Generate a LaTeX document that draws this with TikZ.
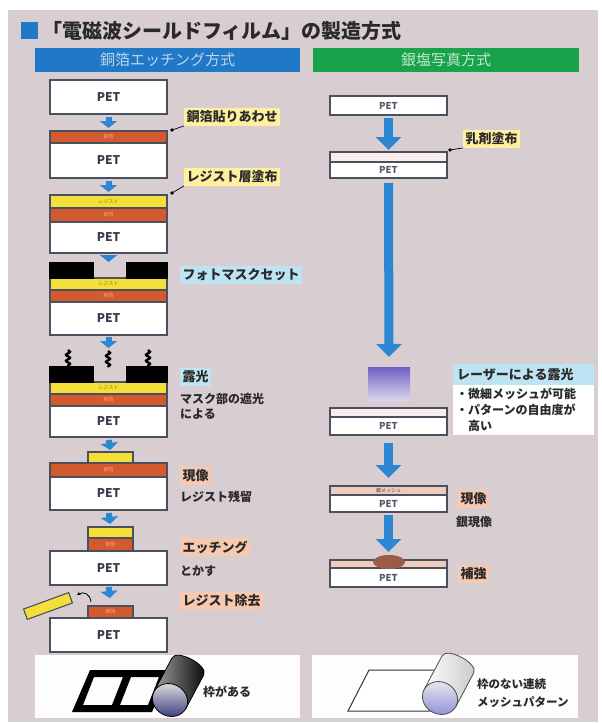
\documentclass[tikz,border=0pt]{standalone}
\usepackage{fontspec}
\setmainfont{Noto Sans CJK JP}
\usetikzlibrary{arrows.meta,decorations.pathmorphing}

\definecolor{panelc}{HTML}{D8CED1}
\definecolor{framec}{HTML}{4B4F5E}
\definecolor{petc}{HTML}{3A3A48}
\definecolor{cuc}{HTML}{D35A2E}
\definecolor{cuhi}{HTML}{F2A488}
\definecolor{resc}{HTML}{F2DF3A}
\definecolor{resdk}{HTML}{8A7A10}
\definecolor{arrowc}{HTML}{2C86D2}
\definecolor{labY}{HTML}{FFF0A0}
\definecolor{labB}{HTML}{BEE3F2}
\definecolor{labP}{HTML}{F6C9B0}
\definecolor{emulc}{HTML}{F7EDEF}
\definecolor{emulb}{HTML}{EFCBBB}
\definecolor{bumpc}{HTML}{9C5A48}
\definecolor{txtc}{HTML}{2A2A2A}
\definecolor{bluebar}{HTML}{2079C6}
\definecolor{greenbar}{HTML}{18A24A}
\definecolor{purtop}{HTML}{6D5EC2}
\definecolor{purbot}{HTML}{DCD4EE}

% one layer of a film stack, given by its corners
\newcommand\lay[7]{\node[#2,anchor=north west,minimum width={#5-#3},minimum height={#6-#4}] (#1) at (#3,#4) {#7};}

\begin{document}
\begin{tikzpicture}[x=1pt,y=-1pt,
  lyr/.style={draw=framec,line width=1.1pt,inner sep=0pt,outer sep=0pt},
  petl/.style={lyr,fill=white,text=petc,font=\bfseries\fontsize{12}{12}\selectfont},
  cul/.style={lyr,fill=cuc,text=cuhi,font=\fontsize{5}{5}\selectfont},
  resl/.style={lyr,fill=resc,text=resdk,font=\fontsize{5}{5}\selectfont},
  maskl/.style={lyr,draw=black,fill=black},
  rpet/.style={lyr,line width=1.4pt,fill=white,text=petc!85,font=\bfseries\fontsize{9.5}{9.5}\selectfont},
  rtop/.style={lyr,line width=1.4pt,fill=emulc,text=black!75,font=\fontsize{5}{5}\selectfont},
  pur/.style={inner sep=0pt,outer sep=0pt,top color=purtop,bottom color=purbot},
  sarr/.style={draw=arrowc,line width=6pt,-{Triangle[width=17pt,length=7pt]}},
  barr/.style={draw=arrowc,line width=9pt,-{Triangle[width=25pt,length=13pt]}},
  tag/.style={inner xsep=2.5pt,inner ysep=2.5pt,anchor=west,text=txtc,font=\bfseries\fontsize{13}{13}\selectfont},
  note/.style={inner sep=0pt,anchor=west,text=txtc,font=\bfseries\fontsize{12}{12}\selectfont},
  lead/.style={draw=black,line width=0.7pt},
  ray/.style={draw=black,line width=2.4pt,decorate,decoration={snake,segment length=6pt,amplitude=2pt}},
]
% background
\fill[white] (0,0) rectangle (602,723);
\fill[panelc] (8,10) rectangle (598,722);

% title
\fill[bluebar] (21,22) rectangle (38,39);
\node[anchor=west,inner sep=0pt,text=txtc,font=\bfseries\fontsize{20}{20}\selectfont] (title) at (42,31) {「電磁波シールドフィルム」の製造方式};

% column headers
\node[fill=bluebar,anchor=north west,minimum width=265pt,minimum height=24pt,inner sep=0pt,text=bluebar!30,font=\fontsize{15}{15}\selectfont] (hl) at (35,48) {銅箔エッチング方式};
\node[fill=greenbar,anchor=north west,minimum width=266pt,minimum height=24pt,inner sep=0pt,text=greenbar!25,font=\fontsize{15}{15}\selectfont] (hr) at (313,48) {銀塩写真方式};

% bottom panels
\fill[white!96!panelc] (35,655) rectangle (300,718);
\fill[white!96!panelc] (312,655) rectangle (578,718);

% ---------- copper-foil etching ----------
\lay{p1}{petl}{50}{80}{167}{114}{PET}

\lay{c2}{cul}{50}{131}{167}{143}{銅箔}
\lay{p2}{petl}{50}{143}{167}{178}{PET}

\lay{r3}{resl}{50}{195}{167}{208}{レジスト}
\lay{c3}{cul}{50}{208}{167}{222}{銅箔}
\lay{p3}{petl}{50}{222}{167}{253}{PET}

\lay{r4}{resl}{50}{278}{167}{290}{レジスト}
\lay{c4}{cul}{50}{290}{167}{302}{銅箔}
\lay{p4}{petl}{50}{302}{167}{335}{PET}
\lay{m4a}{maskl}{50}{263}{93}{278}{}
\lay{m4b}{maskl}{127}{263}{167}{278}{}
\coordinate (m4top) at (108.5,263);

\coordinate (x5) at (108.5,348);
\draw[ray] (68,350) -- (68,366);
\draw[ray] (108,351) -- (108,367);
\draw[ray] (148,350) -- (148,366);

\lay{r5}{resl}{50}{382}{167}{394}{レジスト}
\lay{c5}{cul}{50}{394}{167}{406}{銅箔}
\lay{p5}{petl}{50}{406}{167}{437}{PET}
\lay{m5a}{maskl}{50}{367}{93}{382}{}
\lay{m5b}{maskl}{127}{367}{167}{382}{}

\lay{r6}{resl}{88}{452}{133}{463}{}
\lay{c6}{cul}{50}{463}{167}{477}{銅箔}
\lay{p6}{petl}{50}{477}{167}{510}{PET}

\lay{r7}{resl}{88}{527}{133}{538}{}
\lay{c7}{cul}{88}{538}{133}{551}{銅箔}
\lay{p7}{petl}{50}{551}{167}{585}{PET}

\lay{c8}{cul}{88}{606}{133}{618}{銅箔}
\lay{p8}{petl}{50}{618}{167}{652}{PET}

% peeled resist
\node[lyr,fill=resc,minimum width=48pt,minimum height=11pt,rotate=20] (peel) at (48,606) {};
\coordinate (pk0) at (91,602);
\coordinate (pk1) at (77,595);
\draw[line width=0.8pt,-{Stealth[length=3.5pt,width=3.5pt]}] (pk0) .. controls (90,594) and (84,591) .. (pk1);

% process arrows
\draw[sarr,shorten <=3pt,shorten >=3pt] (p1.south) -- (c2.north);
\draw[sarr,shorten <=3pt,shorten >=3pt] (p2.south) -- (r3.north);
\draw[sarr,shorten <=2pt,shorten >=1pt] (p3.south) -- (m4top);
\draw[sarr,shorten <=2pt] (p4.south) -- (x5);
\draw[sarr,shorten <=3pt,shorten >=2pt] (p5.south) -- (r6.north);
\draw[sarr,shorten <=3pt,shorten >=3pt] (p6.south) -- (r7.north);
\draw[sarr,shorten <=2pt,shorten >=8pt] (p7.south) -- (c8.north);

% labels
\node[tag,fill=labY] (t1) at (184,117) {銅箔貼りあわせ};
\coordinate (d1) at (172,130);
\fill (d1) circle (1.8);
\draw[lead] (d1) -- (t1.south west);
\node[tag,fill=labY] (t2) at (184,177) {レジスト層塗布};
\coordinate (d2) at (172,193);
\fill (d2) circle (1.8);
\draw[lead] (d2) -- (t2.south west);
\node[tag,fill=labB] (t3) at (180,275) {フォトマスクセット};
\node[tag,fill=labB] (t4) at (180,377) {露光};
\node[note] (t4a) at (180,399) {マスク部の遮光};
\node[note] (t4b) at (180,414) {による};
\node[tag,fill=labP] (t5) at (180,476) {現像};
\node[note] (t5a) at (180,497) {レジスト残留};
\node[tag,fill=labP] (t6) at (180,547) {エッチング};
\node[note] (t6a) at (180,571) {とかす};
\node[tag,fill=labP] (t7) at (180,601) {レジスト除去};

% ---------- silver-salt photography ----------
\lay{q1}{rpet}{330}{96}{447}{115}{PET}
\lay{e2}{rtop}{330}{152}{447}{162}{}
\lay{q2}{rpet}{330}{162}{447}{178}{PET}
\lay{pu}{pur}{368}{367}{410}{400}{}
\lay{e3}{rtop}{330}{408}{447}{417}{}
\lay{q3}{rpet}{330}{417}{447}{435}{PET}
\lay{e4}{rtop,fill=emulb}{330}{486}{447}{495}{銀メッシュ}
\lay{q4}{rpet}{330}{495}{447}{512}{PET}
\lay{e5}{rtop,fill=emulb}{330}{560}{447}{568}{}
\lay{q5}{rpet}{330}{568}{447}{587}{PET}
\fill[bumpc] (389,562) ellipse [x radius=16, y radius=7];

\draw[barr,shorten <=3pt,shorten >=2pt] (q1.south) -- (e2.north);
\draw[barr,shorten <=5pt,shorten >=10pt] (q2.south) -- (pu.north);
\draw[barr,shorten <=8pt,shorten >=8pt] (q3.south) -- (e4.north);
\draw[barr,shorten <=3pt,shorten >=8pt] (q4.south) -- (e5.north);

\node[tag,fill=labY] (u1) at (463,139) {乳剤塗布};
\coordinate (d3) at (450,150);
\fill (d3) circle (1.8);
\draw[lead] (d3) -- (u1.south west);

\node[fill=labB,anchor=north west,inner xsep=4pt,inner ysep=0pt,text width=133pt,minimum height=21pt,align=left,text=txtc,font=\bfseries\fontsize{13}{13}\selectfont] (u2) at (453,364) {レーザーによる露光};
\node[fill=white,anchor=north west,inner sep=0pt,minimum width=141pt,minimum height=50pt] (u2b) at (453,385) {};
\node[note] at (456,394) {・微細メッシュが可能};
\node[note] at (456,410) {・パターンの自由度が};
\node[note] at (456,426) {\hspace*{12pt}高い};

\node[tag,fill=labP] (u3) at (458,499) {現像};
\node[note] (u3a) at (456,522) {銀現像};
\node[tag,fill=labP] (u4) at (458,574) {補強};

% ---------- bottom: finished films ----------
% framed mesh (etching)
\fill[black,even odd rule] (72,712) -- (152,712) -- (170,670) -- (90,670) -- cycle
  (83,705) -- (112,705) -- (123,677) -- (94,677) -- cycle
  (120,705) -- (148,705) -- (159,677) -- (131,677) -- cycle;
\begin{scope}[shift={(170,700)},rotate=-28]
  \draw[line width=0.8pt,left color=gray!75,right color=black] (18,0) -- (18,-38) .. controls (18,-48.7) and (-18,-48.7) .. (-18,-38) -- (-18,0) -- cycle;
  \draw[line width=0.8pt,shading angle=30,top color=gray!20,bottom color=gray!60!blue!70!black] (0,0) ellipse [x radius=18, y radius=16];
\end{scope}
\node[note] (b1) at (203,692) {枠がある};

% frameless mesh (silver salt)
\draw[line width=1pt,fill=white,draw=black!80] (348,711) -- (430,711) -- (450,670) -- (369,670) -- cycle;
\begin{scope}[shift={(440,698)},rotate=-28]
  \draw[line width=0.8pt,draw=black!70,left color=white,right color=gray!45] (18,0) -- (18,-38) .. controls (18,-48.7) and (-18,-48.7) .. (-18,-38) -- (-18,0) -- cycle;
  \draw[line width=0.8pt,draw=black!70,shading angle=30,top color=gray!15,bottom color=gray!50!blue!60] (0,0) ellipse [x radius=18, y radius=16];
\end{scope}
\node[note,font=\bfseries\fontsize{11.5}{11.5}\selectfont] (b2) at (477,684) {枠のない連続};
\node[note,font=\bfseries\fontsize{11.5}{11.5}\selectfont] (b3) at (477,702) {メッシュパターン};
\end{tikzpicture}
\end{document}
